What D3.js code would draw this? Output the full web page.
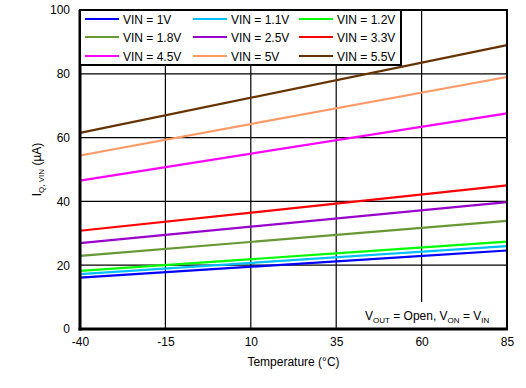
<!DOCTYPE html>
<html><head><meta charset="utf-8">
<script src="https://cdn.jsdelivr.net/npm/d3@7"></script>
<style>body{margin:0;background:#fff}svg{display:block;font-family:"Liberation Sans",Arial,sans-serif}</style>
</head><body><svg id="c" width="526" height="388"></svg>
<script>
const temps = [-40, 85];
const seriesNames = ["VIN = 1V","VIN = 1.1V","VIN = 1.2V","VIN = 1.8V","VIN = 2.5V","VIN = 3.3V","VIN = 4.5V","VIN = 5V","VIN = 5.5V"];
const seriesColors = ["#0000FF","#00BFFF","#00FF00","#669933","#9900CC","#FF0000","#FF00FF","#FF9966","#663300"];
const v1 = [16.1, 24.6];
const v11 = [17.2, 26.0];
const v12 = [18.2, 27.4];
const v18 = [22.9, 33.9];
const v25 = [26.9, 39.8];
const v33 = [30.8, 45.0];
const v45 = [46.5, 67.6];
const v5 = [54.4, 79.0];
const v55 = [61.5, 89.0];
const seriesValues = [v1, v11, v12, v18, v25, v33, v45, v5, v55];
const xTicks = [-40, -15, 10, 35, 60, 85];
const yTicks = [0, 20, 40, 60, 80, 100];

const svg = d3.select("#c");
const L = 80, R = 507, T = 10, B = 329;
const x = d3.scaleLinear().domain([-40, 85]).range([L, R]);
const y = d3.scaleLinear().domain([0, 100]).range([B, T]);

// grid
svg.append("g").selectAll("line").data(xTicks).join("line")
  .attr("x1", d => x(d)).attr("x2", d => x(d)).attr("y1", T).attr("y2", B)
  .attr("stroke", "#000").attr("stroke-width", 1.2);
svg.append("g").selectAll("line").data(yTicks).join("line")
  .attr("x1", L).attr("x2", R).attr("y1", d => y(d)).attr("y2", d => y(d))
  .attr("stroke", "#000").attr("stroke-width", 1.2);

// lines
const line = d3.line().x((d, i) => x(temps[i])).y(d => y(d));
svg.append("g").selectAll("path").data(seriesValues).join("path")
  .attr("d", d => line(d)).attr("fill", "none")
  .attr("stroke", (d, i) => seriesColors[i]).attr("stroke-width", 2.2);

// annotation background
svg.append("rect").attr("x", 358).attr("y", 302).attr("width", 148).attr("height", 27)
  .attr("fill", "#fff");

// frame
svg.append("rect").attr("x", L).attr("y", T).attr("width", R - L).attr("height", B - T)
  .attr("fill", "none").attr("stroke", "#000").attr("stroke-width", 2);
svg.append("line").attr("x1", L).attr("x2", L).attr("y1", T).attr("y2", B + 1.5).attr("stroke", "#000").attr("stroke-width", 3);
svg.append("line").attr("x1", L - 1.5).attr("x2", R + 1).attr("y1", B).attr("y2", B).attr("stroke", "#000").attr("stroke-width", 3);

// axes labels
const fmt = d => String(d);
const xa = d3.axisBottom(x).tickValues(xTicks).tickFormat(fmt).tickSize(0).tickPadding(8);
const gx = svg.append("g").attr("transform", `translate(0,${B})`).call(xa);
gx.select(".domain").remove();
gx.selectAll("text").attr("font-size", 12).attr("fill", "#000").attr("font-family", "Liberation Sans, Arial, sans-serif");
const ya = d3.axisLeft(y).tickValues(yTicks).tickFormat(fmt).tickSize(0).tickPadding(10);
const gy = svg.append("g").attr("transform", `translate(${L},0)`).call(ya);
gy.select(".domain").remove();
gy.selectAll("text").attr("font-size", 12).attr("fill", "#000").attr("font-family", "Liberation Sans, Arial, sans-serif");

svg.append("text").attr("x", (L + R) / 2).attr("y", 366).attr("text-anchor", "middle")
  .attr("font-size", 12).text("Temperature (°C)");
const yl = svg.append("text").attr("transform", `translate(41,${(T + B) / 2}) rotate(-90)`)
  .attr("text-anchor", "middle").attr("font-size", 12);
yl.append("tspan").text("I");
yl.append("tspan").attr("font-size", 8).attr("dy", 3).text("Q, VIN");
yl.append("tspan").attr("dy", -3).text(" (µA)");

// legend
const lg = svg.append("g");
lg.append("rect").attr("x", 80).attr("y", 10).attr("width", 321).attr("height", 55)
  .attr("fill", "#fff").attr("stroke", "#000").attr("stroke-width", 2);
const colX = [85, 193, 299], rowY = [19, 37, 56];
seriesNames.forEach((n, i) => {
  const cx = colX[i % 3], cy = rowY[Math.floor(i / 3)];
  lg.append("line").attr("x1", cx).attr("x2", cx + 34).attr("y1", cy).attr("y2", cy)
    .attr("stroke", seriesColors[i]).attr("stroke-width", 2.2);
  lg.append("text").attr("x", cx + 38).attr("y", cy + 4.5).attr("font-size", 12).text(n);
});

// annotation text
const at = svg.append("text").attr("x", 365).attr("y", 320).attr("font-size", 12);
at.append("tspan").text("V");
at.append("tspan").attr("font-size", 8).attr("dy", 3).text("OUT");
at.append("tspan").attr("dy", -3).text(" = Open, V");
at.append("tspan").attr("font-size", 8).attr("dy", 3).text("ON");
at.append("tspan").attr("dy", -3).text(" = V");
at.append("tspan").attr("font-size", 8).attr("dy", 3).text("IN");
</script></body></html>
